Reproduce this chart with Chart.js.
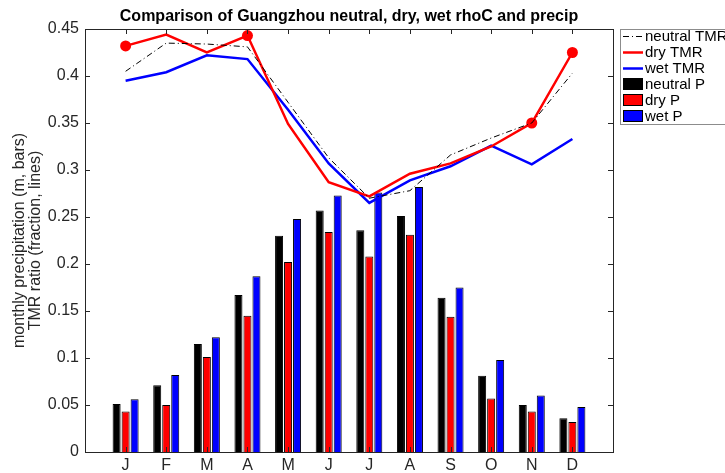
<!DOCTYPE html>
<html>
<head>
<meta charset="utf-8">
<script src="https://cdn.jsdelivr.net/npm/chart.js@4/dist/chart.umd.min.js"></script>
<style>
  html, body { margin: 0; padding: 0; background: #fff; }
  canvas { display: block; }
</style>
</head>
<body>
<canvas id="c" width="725" height="473"></canvas>
<script>
// Monthly values for Guangzhou
const months = ['J', 'F', 'M', 'A', 'M', 'J', 'J', 'A', 'S', 'O', 'N', 'D'];

// monthly precipitation (m)
const neutralP = [0.051, 0.071, 0.115, 0.167, 0.230, 0.257, 0.236, 0.251, 0.164, 0.081, 0.050, 0.036];
const dryP     = [0.043, 0.050, 0.101, 0.145, 0.202, 0.234, 0.208, 0.231, 0.144, 0.057, 0.043, 0.032];
const wetP     = [0.056, 0.082, 0.122, 0.187, 0.248, 0.273, 0.276, 0.282, 0.175, 0.098, 0.060, 0.048];

// TMR ratio (fraction)
const neutralTMR = [0.405, 0.435, 0.434, 0.431, 0.372, 0.313, 0.270, 0.278, 0.316, 0.334, 0.350, 0.403];
const dryTMR     = [0.432, 0.444, 0.425, 0.443, 0.349, 0.287, 0.272, 0.296, 0.307, 0.325, 0.350, 0.425];
const wetTMR     = [0.395, 0.404, 0.422, 0.418, 0.364, 0.307, 0.265, 0.289, 0.304, 0.326, 0.306, 0.333];

// months of the dry series that carry a marker
const dryMarkedMonths = [0, 3, 10, 11];

const yTicks = [0, 0.05, 0.1, 0.15, 0.2, 0.25, 0.3, 0.35, 0.4, 0.45];

const titleText = 'Comparison of Guangzhou neutral, dry, wet rhoC and precip';
const yLabel = ['monthly precipitation (m, bars)', 'TMR ratio (fraction, lines)'];

// x runs from 0 to 13 with the months at 1..12
const xLabels = ['', ...months, ''];
const pad = arr => [null, ...arr, null];

const FONT = 'Liberation Sans, Arial, Helvetica, sans-serif';
const AXIS = '#262626';

const dryRadius = pad(months.map((m, i) => dryMarkedMonths.includes(i) ? 5.5 : 0));

// inward tick marks and the axes box
const axesBox = {
  id: 'axesBox',
  afterDraw(chart) {
    const { ctx, chartArea: a, scales } = chart;
    const len = 5;
    ctx.save();
    ctx.strokeStyle = AXIS;
    ctx.lineWidth = 1;
    ctx.beginPath();
    yTicks.forEach(v => {
      const y = Math.round(scales.y.getPixelForValue(v)) + 0.5;
      ctx.moveTo(a.left, y); ctx.lineTo(a.left + len, y);
      ctx.moveTo(a.right, y); ctx.lineTo(a.right - len, y);
    });
    months.forEach((m, i) => {
      const x = Math.round(scales.x.getPixelForValue(i + 1)) + 0.5;
      ctx.moveTo(x, a.top); ctx.lineTo(x, a.top + len);
      ctx.moveTo(x, a.bottom); ctx.lineTo(x, a.bottom - len);
    });
    ctx.stroke();
    ctx.strokeRect(Math.round(a.left) + 0.5, Math.round(a.top) + 0.5,
                   Math.round(a.right - a.left), Math.round(a.bottom - a.top));
    ctx.restore();
  }
};

// title above the axes
const titlePlugin = {
  id: 'titlePlugin',
  afterDraw(chart) {
    const { ctx, chartArea: a } = chart;
    ctx.save();
    ctx.font = 'bold 16px ' + FONT;
    ctx.fillStyle = '#000';
    ctx.textAlign = 'center';
    ctx.textBaseline = 'alphabetic';
    ctx.fillText(titleText, (a.left + a.right) / 2, 21);
    ctx.restore();
  }
};

// boxed legend at the top right
const legendBox = {
  id: 'legendBox',
  afterDraw(chart) {
    const { ctx } = chart;
    const x0 = 620, y0 = 29, w = 130, h = 95;
    ctx.save();
    ctx.fillStyle = '#fff';
    ctx.fillRect(x0, y0, w, h);
    ctx.strokeStyle = '#8c8c8c';
    ctx.lineWidth = 1;
    ctx.strokeRect(x0 + 0.5, y0 + 0.5, w, h);
    ctx.font = '15px ' + FONT;
    ctx.textBaseline = 'middle';
    ctx.textAlign = 'left';
    chart.data.datasets.forEach((ds, i) => {
      const yc = y0 + 7 + i * 16;
      if (ds.type === 'line') {
        ctx.beginPath();
        ctx.strokeStyle = ds.borderColor;
        ctx.lineWidth = ds.borderWidth;
        ctx.setLineDash(ds.borderDash || []);
        ctx.moveTo(623, yc + 0.5); ctx.lineTo(643, yc + 0.5);
        ctx.stroke();
        ctx.setLineDash([]);
      } else {
        ctx.fillStyle = ds.backgroundColor;
        ctx.fillRect(623, yc - 6, 20, 12);
        ctx.strokeStyle = '#000';
        ctx.lineWidth = 1;
        ctx.strokeRect(623.5, yc - 5.5, 19, 11);
      }
      ctx.fillStyle = '#000';
      ctx.fillText(ds.label, 645, yc + 1);
    });
    ctx.restore();
  }
};

const barStyle = { borderColor: '#000', borderWidth: 1, categoryPercentage: 0.665, barPercentage: 0.89 };

new Chart(document.getElementById('c'), {
  data: {
    labels: xLabels,
    datasets: [
      { type: 'line', label: 'neutral TMR', data: pad(neutralTMR), borderColor: '#000',
        borderWidth: 1, borderDash: [6, 3, 1, 3], pointRadius: 0, tension: 0 },
      { type: 'line', label: 'dry TMR', data: pad(dryTMR), borderColor: '#ff0000',
        borderWidth: 2.5, pointRadius: dryRadius, pointBackgroundColor: '#ff0000',
        pointBorderColor: '#ff0000', pointBorderWidth: 0, tension: 0 },
      { type: 'line', label: 'wet TMR', data: pad(wetTMR), borderColor: '#0000ff',
        borderWidth: 2.5, pointRadius: 0, tension: 0 },
      { type: 'bar', label: 'neutral P', data: pad(neutralP), backgroundColor: '#000', ...barStyle },
      { type: 'bar', label: 'dry P', data: pad(dryP), backgroundColor: '#ff0000', ...barStyle },
      { type: 'bar', label: 'wet P', data: pad(wetP), backgroundColor: '#0000ff', ...barStyle }
    ]
  },
  options: {
    responsive: false,
    animation: false,
    devicePixelRatio: 1,
    layout: { padding: { left: 0, right: 112, top: 29, bottom: 0 } },
    plugins: { legend: { display: false }, tooltip: { enabled: false }, title: { display: false } },
    scales: {
      x: {
        type: 'category',
        offset: false,
        grid: { display: false, drawTicks: false },
        border: { display: false },
        ticks: { autoSkip: false, maxRotation: 0, minRotation: 0, padding: 4,
                 color: AXIS, font: { family: FONT, size: 16 } },
        afterFit(s) { s.height = 21; }
      },
      y: {
        type: 'linear',
        min: 0, max: 0.45,
        grid: { display: false, drawTicks: false },
        border: { display: false },
        afterBuildTicks(s) { s.ticks = yTicks.map(v => ({ value: v })); },
        ticks: { padding: 6, color: AXIS, font: { family: FONT, size: 16 },
                 callback: v => String(Number(v.toFixed(2))) },
        title: { display: true, text: yLabel, color: AXIS,
                 font: { family: FONT, size: 16, lineHeight: 1 },
                 padding: { top: 12, bottom: 0 } },
        afterFit(s) { s.width = 85; }
      }
    }
  },
  plugins: [axesBox, titlePlugin, legendBox]
});
</script>
</body>
</html>
